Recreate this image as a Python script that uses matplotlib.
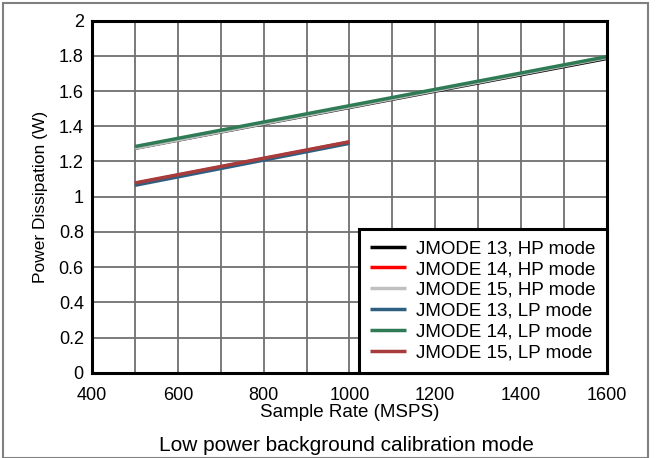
import matplotlib
matplotlib.use("Agg")
import matplotlib.pyplot as plt
from matplotlib.patches import Rectangle

plt.rcParams['font.family'] = ['Liberation Sans', 'DejaVu Sans']

# sample rate endpoints (MSPS)
x_hp = [500, 1600]
x_lp = [500, 1000]

# power dissipation (W)
labels = ["JMODE 13, HP mode", "JMODE 14, HP mode", "JMODE 15, HP mode",
          "JMODE 13, LP mode", "JMODE 14, LP mode", "JMODE 15, LP mode"]
colors = ["#000000", "#ff0000", "#c0c0c0", "#2f5f80", "#2e7b55", "#a83c3c"]
xs = [x_hp, x_lp, x_hp, x_lp, x_hp, x_lp]
ys = [
    [1.275, 1.785],
    [1.075, 1.310],
    [1.275, 1.790],
    [1.065, 1.303],
    [1.285, 1.795],
    [1.078, 1.312],
]

xticks = [400, 600, 800, 1000, 1200, 1400, 1600]
yticks = [0, 0.2, 0.4, 0.6, 0.8, 1, 1.2, 1.4, 1.6, 1.8, 2]
ytick_labels = ["0", "0.2", "0.4", "0.6", "0.8", "1", "1.2", "1.4", "1.6", "1.8", "2"]

fig = plt.figure(figsize=(6.58, 4.58), dpi=100)
ax = fig.add_axes([0.140, 0.186, 0.782, 0.769])

for x, y, c, lab in zip(xs, ys, colors, labels):
    ax.plot(x, y, color=c, lw=2.5, label=lab, solid_capstyle='butt', zorder=3)

ax.set_xlim(400, 1600)
ax.set_ylim(0, 2)
ax.set_xticks(xticks)
ax.set_xticks(range(400, 1601, 100), minor=True)
ax.set_yticks(yticks)
ax.set_yticklabels(ytick_labels)
ax.grid(which='both', color='#707070', lw=1.3)
ax.tick_params(which='both', length=0, labelsize=13)
ax.tick_params(axis='x', pad=10)
ax.tick_params(axis='y', pad=6)
for s in ax.spines.values():
    s.set_linewidth(2.2)
    s.set_zorder(5)

ax.set_xlabel("Sample Rate (MSPS)", fontsize=13.5, labelpad=0)
ax.set_ylabel("Power Dissipation (W)", fontsize=12.5, labelpad=8)

leg = ax.legend(loc='lower right', borderaxespad=0, fontsize=13.5, frameon=True,
                fancybox=False, handlelength=1.9, labelspacing=0.2,
                borderpad=0.6, handletextpad=0.55)
leg.get_frame().set_edgecolor('black')
leg.get_frame().set_linewidth(2.2)
leg.get_frame().set_alpha(1)
leg.set_zorder(6)

fig.text(0.527, 0.028, "Low power background calibration mode", ha='center',
         va='center', fontsize=15)

fig.patches.append(Rectangle((0.004, 0.0), 0.981, 0.993, transform=fig.transFigure,
                             fill=False, edgecolor='#808080', lw=1.5))

fig.savefig("out.png", dpi=100)
